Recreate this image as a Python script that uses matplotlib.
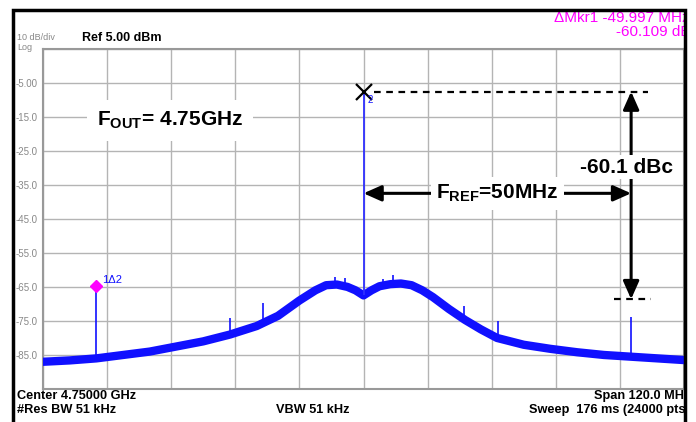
import numpy as np
import matplotlib
matplotlib.use("Agg")
import matplotlib.pyplot as plt
from matplotlib.patches import Rectangle

plt.rcParams['font.family'] = ['Liberation Sans', 'DejaVu Sans']
plt.rcParams['mathtext.fontset'] = 'custom'
plt.rcParams['mathtext.rm'] = 'Liberation Sans:bold'
plt.rcParams['mathtext.bf'] = 'Liberation Sans:bold'

# offset from center (MHz) and noise floor level (dBm)
trace_mhz = [-60, -55, -50, -45, -40, -35, -30, -25, -20, -16, -12, -9, -7, -5, -3, -1.5, 0,
             1.5, 3, 5, 7, 9, 11, 13, 16, 19, 22, 25, 30, 35, 40, 45, 50, 55, 60]
trace_dbm = [-87, -86.6, -86, -85, -84, -82.5, -81, -79, -76.5, -73.5, -69, -66, -64.5, -64.3, -65, -66, -67.5,
             -66, -64.8, -64.2, -64, -64.5, -66, -68, -71.5, -74.7, -77.5, -80, -82, -83.2, -84.2, -85, -85.5, -86, -86.5]

spur_mhz = [-50.0, -25.0, -18.8, -5.4, -3.5, 3.6, 5.6, 18.9, 25.2, 50.0]
spur_dbm = [-66.4, -74.0, -69.8, -62.0, -62.4, -62.6, -61.5, -70.6, -74.9, -73.7]

carrier_mhz = 0.0
carrier_dbm = -7.6
delta_mkr = (-50.0, -64.7)
ref_line = -68.6

ytick_vals = [5, -5, -15, -25, -35, -45, -55, -65, -75, -85, -95]
ytick_lbls = ['', '-5.00', '-15.0', '-25.0', '-35.0', '-45.0', '-55.0', '-65.0', '-75.0', '-85.0', '']

W, H = 696, 422
fig = plt.figure(figsize=(W / 100, H / 100), dpi=100)
ax = fig.add_axes([43 / W, 1 - 389 / H, (684 - 43) / W, (389 - 48.7) / H])
ax.set_xlim(-60, 60)
ax.set_ylim(-95, 5)
ax.set_xticks(np.arange(-60, 61, 12))
ax.set_xticklabels([])
ax.set_yticks(ytick_vals)
ax.set_yticklabels(ytick_lbls, fontsize=7, color='#888888')
ax.tick_params(length=0, pad=4)
ax.grid(True, color='#b4b4b4', lw=1)
for s in ax.spines.values():
    s.set_color('#999999')
    s.set_linewidth(1.5)

blue = '#1010ff'
ax.plot(trace_mhz, trace_dbm, color=blue, lw=6, solid_joinstyle='round', zorder=3)
spur_base = np.interp(spur_mhz, trace_mhz, trace_dbm)
ax.vlines(spur_mhz, spur_base, spur_dbm, color=blue, lw=1.2, zorder=3)
ax.vlines(carrier_mhz, np.interp(carrier_mhz, trace_mhz, trace_dbm), carrier_dbm, color='#3030ff', lw=1.3, zorder=3)

# markers
ax.plot(carrier_mhz, carrier_dbm, marker='x', ms=11, mew=1.6, color='black', zorder=6)
ax.annotate('2', (carrier_mhz, carrier_dbm), xytext=(5, -6), textcoords='offset points',
            color=blue, fontsize=7, ha='center', va='center', zorder=6)
ax.plot(*delta_mkr, marker='D', ms=6, color='#ff00ff', zorder=6)
ax.annotate('1\u03942', delta_mkr, xytext=(4, 4), textcoords='offset points',
            color=blue, fontsize=8, ha='left', va='center', zorder=6)

# dashed reference lines
ax.plot([1.9, 53.2], [carrier_dbm, carrier_dbm], ls=(0, (3, 2.5)), color='black', lw=1.6, zorder=5)
ax.plot([46.9, 53.8], [ref_line, ref_line], ls=(0, (3, 2.5)), color='black', lw=1.6, zorder=5)

arrow = dict(arrowstyle='<|-|>,head_length=0.9,head_width=0.4', mutation_scale=12,
             color='black', lw=2.2, shrinkA=0, shrinkB=0)
ax.annotate('', xy=(50.1, carrier_dbm), xytext=(50.1, ref_line), arrowprops=arrow, zorder=5)
ax.annotate('', xy=(0, -37.5), xytext=(50.1, -37.5), arrowprops=arrow, zorder=5)

ax.text(-36.2, -16, r'F$_{\mathrm{OUT}}$= 4.75GHz', fontsize=15, fontweight='bold',
        ha='center', va='center', bbox=dict(facecolor='white', edgecolor='none', pad=7), zorder=7)
ax.text(49.2, -29.8, '-60.1 dBc', fontsize=15, fontweight='bold',
        ha='center', va='center', bbox=dict(facecolor='white', edgecolor='none', pad=2), zorder=7)
ax.text(25.1, -37.5, r'F$_{\mathrm{REF}}$=50MHz', fontsize=15, fontweight='bold',
        ha='center', va='center', bbox=dict(facecolor='white', edgecolor='none', pad=4), zorder=7)

# header and footer annotations
def ftext(x, y, s, **kw):
    fig.text(x / W, 1 - y / H, s, **kw)

ftext(17, 37.5, '10 dB/div', fontsize=6.5, color='#888888', va='center')
ftext(17, 47.5, 'Log', fontsize=6.5, color='#888888', va='center')
ftext(82, 38, 'Ref 5.00 dBm', fontsize=9, fontweight='bold', va='center')
ftext(690, 18, '\u0394Mkr1 -49.997 MHz', fontsize=11, color='#ff00ff', ha='right', va='center')
ftext(690, 32, '-60.109 dB', fontsize=11, color='#ff00ff', ha='right', va='center')

ftext(17, 396, 'Center 4.75000 GHz', fontsize=9.2, fontweight='bold', va='center')
ftext(17, 410, '#Res BW 51 kHz', fontsize=9.2, fontweight='bold', va='center')
ftext(276, 410, 'VBW 51 kHz', fontsize=9.2, fontweight='bold', va='center')
ftext(690, 396, 'Span 120.0 MHz', fontsize=9.2, fontweight='bold', ha='right', va='center')
ftext(690, 410, 'Sweep  176 ms (24000 pts)', fontsize=9.2, fontweight='bold', ha='right', va='center')

# outer frame, text clipped at its right side
fig.patches.append(Rectangle((686 / W, 0), 1, 1, transform=fig.transFigure,
                             facecolor='white', edgecolor='none', zorder=10))
fig.patches.append(Rectangle((13 / W, -0.1), (685 - 13) / W, 1.1 - 10.5 / H, transform=fig.transFigure,
                             facecolor='none', edgecolor='black', lw=2.5, zorder=11))

fig.savefig('out.png', dpi=100)
